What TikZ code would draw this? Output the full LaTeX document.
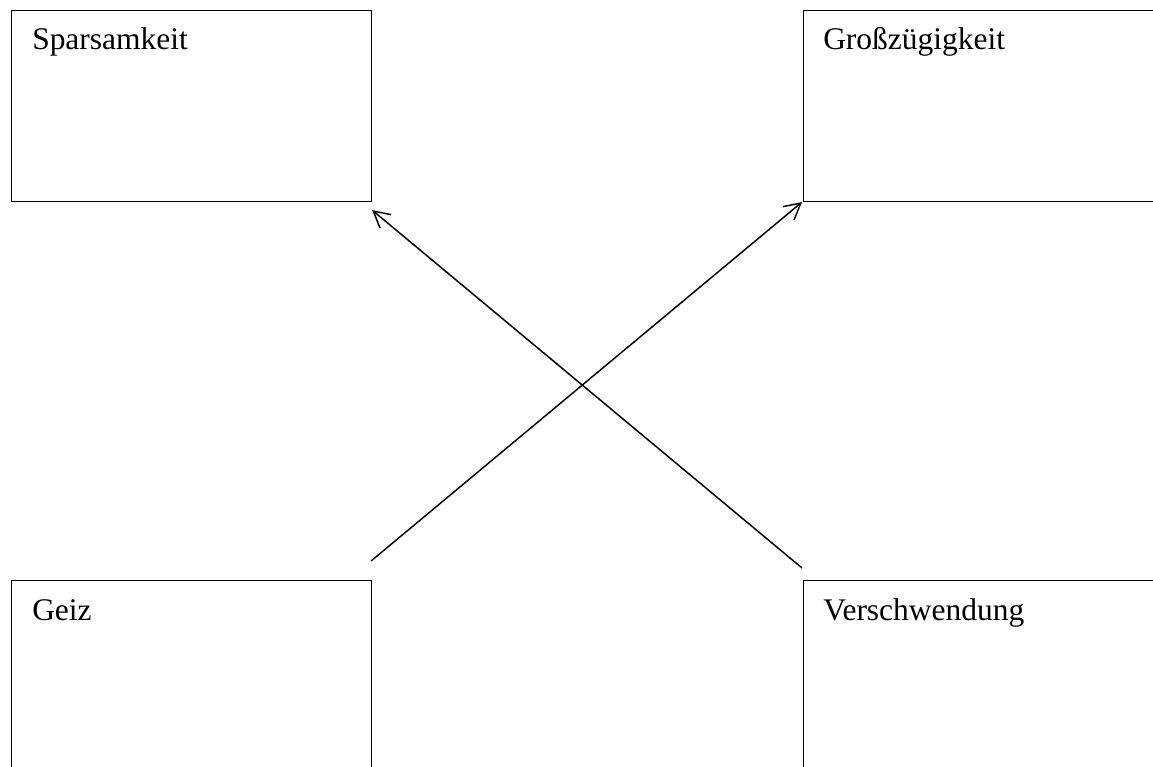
\documentclass[tikz,border=0pt]{standalone}
\usepackage{fontspec}
\setmainfont{Liberation Serif}
\usetikzlibrary{arrows.meta,calc}
\begin{document}
\begin{tikzpicture}[x=0.75pt,y=-0.75pt,
  box/.style={draw,line width=0.8pt,minimum width=270pt,minimum height=143.25pt,anchor=north west,inner sep=0pt},
  lbl/.style={anchor=base west,inner sep=0pt,font=\fontsize{23.6pt}{28pt}\selectfont},
  conn/.style={line width=1.1pt,-{Straight Barb[length=12pt,width=13pt,line width=1.1pt]}}]
\useasboundingbox (0,0) rectangle (1153,767);
\clip (0,0) rectangle (1153,767);
\node[box] (sp) at (11,10) {};
\node[box] (gr) at (803,10) {};
\node[box] (ge) at (11,580) {};
\node[box] (ve) at (803,580) {};
\node[lbl] (spt) at (32,50) {Sparsamkeit};
\node[lbl] (grt) at (823,50) {Großzügigkeit};
\node[lbl] (get) at (32,620) {Geiz};
\node[lbl] (vet) at (823,620) {Verschwendung};
\coordinate (gestart) at ($(ge.north east)+(-1,-19)$);
\coordinate (vestart) at ($(ve.north west)+(-1,-12)$);
\draw[conn] (gestart) -- ($(gr.south west)+(-1,0)$);
\draw[conn] (vestart) -- ($(sp.south east)+(0,8)$);
\end{tikzpicture}
\end{document}
